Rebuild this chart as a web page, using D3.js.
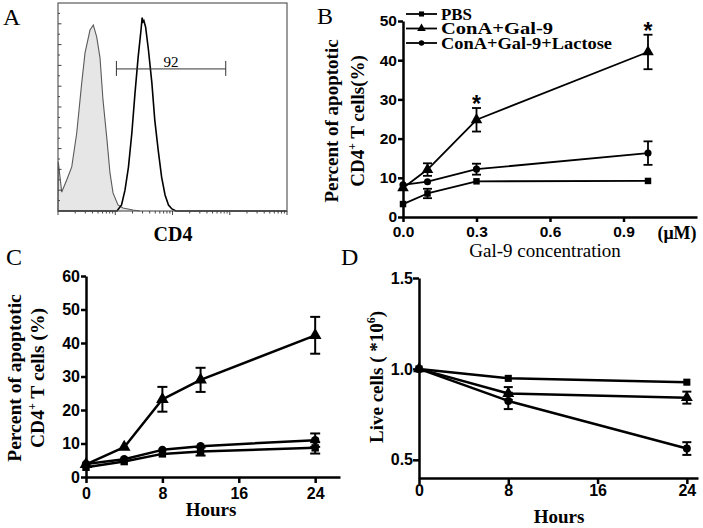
<!DOCTYPE html>
<html><head><meta charset="utf-8">
<script src="https://cdn.jsdelivr.net/npm/d3@7"></script>
<style>html,body{margin:0;padding:0;background:#fff;}svg{display:block;}</style>
</head><body>
<script>
// ---------- DATA ----------
// Panel A: flow cytometry histograms (x = log10 fluorescence decade, y = relative count %)
const isotypeHist = [[0.0,0],[0.005,23.6],[0.065,9.1],[0.152,14.9],[0.24,21.2],[0.327,37.5],[0.414,61.5],[0.472,76],[0.559,87],[0.617,89.4],[0.676,83.7],[0.734,73.6],[0.786,53.4],[0.856,34.1],[0.908,18.3],[0.961,8.7],[1.048,2.9],[1.135,1.4],[1.31,0.5],[1.43,0]];
const cd4Hist = [[0.0,0],[1.03,0],[1.11,2.9],[1.17,10],[1.23,21],[1.29,37.5],[1.345,56.7],[1.40,74],[1.45,87],[1.47,93],[1.485,91],[1.50,91.5],[1.53,88.5],[1.58,77.4],[1.64,61.5],[1.69,43.8],[1.75,29.3],[1.81,16.3],[1.87,7.7],[1.93,2.9],[1.99,1],[2.06,0],[4.0,0]];
const gateRange = [1.02, 2.93];
const gateLevel = 68.3;
const gateLabel = "92";

// Panel B: dose response
const doseX = [0, 0.1, 0.3, 1.0];
const seriesNames = ["PBS", "ConA+Gal-9", "ConA+Gal-9+Lactose"];
const doseBPBS = [3.3, 6.0, 9.1, 9.2];
const doseBPBSErr = [0, 1.2, 0, 0];
const doseBGal = [7.4, 12.1, 24.8, 42.1];
const doseBGalErr = [0, 1.6, 3.0, 4.4];
const doseBLac = [8.2, 9.0, 12.2, 16.3];
const doseBLacErr = [0, 0, 1.4, 3.0];
const doseStars = [0.3, 1.0];
const doseTicksX = [0, 0.3, 0.6, 0.9];
const doseTicksY = [0, 10, 20, 30, 40, 50];

// Panel C: time course apoptosis
const hoursC = [0, 4, 8, 12, 24];
const timeCGal = [3.8, 8.9, 23.2, 29.0, 42.3];
const timeCGalErr = [0, 0, 3.7, 3.6, 5.5];
const timeCLac = [3.9, 5.3, 8.1, 9.2, 11.0];
const timeCLacErr = [0, 0, 0, 0, 2.0];
const timeCPBS = [2.9, 4.6, 6.9, 7.6, 8.7];
const timeCPBSErr = [0, 0, 0, 1.2, 1.7];
const hourTicks = [0, 8, 16, 24];
const timeCTicksY = [0, 10, 20, 30, 40, 50, 60];

// Panel D: live cells
const hoursD = [0, 8, 24];
const liveDPBS = [1.0, 0.948, 0.927];
const liveDPBSErr = [0, 0, 0];
const liveDGal = [1.0, 0.865, 0.842];
const liveDGalErr = [0, 0.035, 0.033];
const liveDLac = [1.0, 0.824, 0.562];
const liveDLacErr = [0, 0.045, 0.035];
const liveTicksY = [0.5, 1.0, 1.5];

// ---------- DRAW ----------
const serif = "'Liberation Serif','Times New Roman',serif";
const sans = "'Liberation Sans',Arial,sans-serif";
const svg = d3.select("body").append("svg").attr("width", 703).attr("height", 528);

function txt(x, y, s, size, weight, family, anchor) {
  return svg.append("text").attr("x", x).attr("y", y).text(s)
    .attr("font-size", size).attr("font-weight", weight || "normal")
    .attr("font-family", family || serif).attr("text-anchor", anchor || "start").attr("fill", "#000");
}

// panel letters
txt(3, 25, "A", 24); txt(317, 24, "B", 24); txt(6, 265, "C", 24); txt(341, 265, "D", 24);

// ---------- Panel A ----------
const xA = d3.scaleLinear().domain([0, 4]).range([58, 287]);
const yA = d3.scaleLinear().domain([0, 100]).range([211, 3]);
const gA = svg.append("g");
gA.append("path").datum(isotypeHist)
  .attr("d", d3.area().x(d => xA(d[0])).y0(yA(0)).y1(d => yA(d[1])))
  .attr("fill", "#e6e6e6").attr("stroke", "none");
gA.append("path").datum(isotypeHist)
  .attr("d", d3.line().x(d => xA(d[0])).y(d => yA(d[1])))
  .attr("fill", "none").attr("stroke", "#5a5a5a").attr("stroke-width", 1.1);
gA.append("path").datum(cd4Hist)
  .attr("d", d3.line().x(d => xA(d[0])).y(d => yA(d[1])))
  .attr("fill", "none").attr("stroke", "#000").attr("stroke-width", 1.6);
gA.append("rect").attr("x", xA(0)).attr("y", yA(100)).attr("width", xA(4) - xA(0)).attr("height", yA(0) - yA(100))
  .attr("fill", "none").attr("stroke", "#5a5a5a").attr("stroke-width", 1.2);
// log ticks
const logTicks = [];
for (let k = 0; k < 4; k++) for (let m = 1; m <= 9; m++) logTicks.push({v: k + Math.log10(m), major: m === 1});
logTicks.push({v: 4, major: true});
gA.selectAll(".lt").data(logTicks).join("line")
  .attr("x1", d => xA(d.v)).attr("x2", d => xA(d.v))
  .attr("y1", yA(0)).attr("y2", d => yA(0) + (d.major ? 4 : 2.5))
  .attr("stroke", "#444").attr("stroke-width", 1);
const countTicks = d3.range(5, 100, 5);
gA.selectAll(".ct").data(countTicks).join("line")
  .attr("x1", xA(0)).attr("x2", d => xA(0) + (d % 10 === 0 ? 3.5 : 2))
  .attr("y1", d => yA(d)).attr("y2", d => yA(d))
  .attr("stroke", "#444").attr("stroke-width", 1);
// gate
gA.append("line").attr("x1", xA(gateRange[0])).attr("x2", xA(gateRange[1]))
  .attr("y1", yA(gateLevel)).attr("y2", yA(gateLevel)).attr("stroke", "#333").attr("stroke-width", 1);
gateRange.forEach(g => gA.append("line").attr("x1", xA(g)).attr("x2", xA(g))
  .attr("y1", yA(gateLevel) - 8).attr("y2", yA(gateLevel) + 7).attr("stroke", "#333").attr("stroke-width", 1));
txt((xA(gateRange[0]) + xA(gateRange[1])) / 2, yA(gateLevel) - 1.5, gateLabel, 15, "normal", serif, "middle");
txt((xA(0) + xA(4)) / 2 + 0.5, 241, "CD4", 20, "bold", serif, "middle");

// ---------- generic XY panel helper ----------
const shapes = [d3.symbolSquare, d3.symbolTriangle, d3.symbolCircle];
function styleAxis(g, sw, fs) {
  g.attr("font-family", sans).attr("font-size", fs).attr("font-weight", "bold");
  g.select(".domain").attr("stroke-width", sw).attr("stroke", "#000");
  g.selectAll(".tick line").attr("stroke-width", sw).attr("stroke", "#000");
  g.selectAll(".tick text").attr("fill", "#000");
}
function drawSeries(g, x, y, xs, vals, errs, shape, opts) {
  const pts = xs.map((xv, i) => ({x: xv, v: vals[i], e: errs[i]}));
  g.append("path").datum(pts).attr("d", d3.line().x(d => x(d.x)).y(d => y(d.v)))
    .attr("fill", "none").attr("stroke", "#000").attr("stroke-width", opts.lw).attr("stroke-linejoin", "round");
  const eb = pts.filter(d => d.e > 0);
  g.selectAll(null).data(eb).join("line")
    .attr("x1", d => x(d.x)).attr("x2", d => x(d.x)).attr("y1", d => y(d.v - d.e)).attr("y2", d => y(d.v + d.e))
    .attr("stroke", "#000").attr("stroke-width", opts.ew);
  [-1, 1].forEach(s => g.selectAll(null).data(eb).join("line")
    .attr("x1", d => x(d.x) - opts.cap / 2).attr("x2", d => x(d.x) + opts.cap / 2)
    .attr("y1", d => y(d.v + s * d.e)).attr("y2", d => y(d.v + s * d.e))
    .attr("stroke", "#000").attr("stroke-width", opts.ew));
  g.selectAll(null).data(pts).join("path")
    .attr("transform", d => `translate(${x(d.x)},${y(d.v)})`)
    .attr("d", d3.symbol().type(shape).size(opts.ms[shapes.indexOf(shape)]))
    .attr("fill", "#000");
}
function rotLabel(x, y, parts, size) {
  const t = svg.append("text").attr("transform", `translate(${x},${y}) rotate(-90)`)
    .attr("text-anchor", "middle").attr("font-family", serif).attr("font-weight", "bold").attr("font-size", size).attr("fill", "#000");
  parts.forEach(p => {
    const ts = t.append("tspan").text(p.t);
    if (p.sup) ts.attr("font-size", size * 0.62).attr("dy", -size * 0.42);
    if (p.after) ts.attr("dy", size * 0.42);
  });
  return t;
}

// ---------- Panel B ----------
const xB = d3.scaleLinear().domain([0, 1.2]).range([403, 697]);
const yB = d3.scaleLinear().domain([0, 50]).range([217, 21]);
const gB = svg.append("g");
const bxa = gB.append("g").attr("transform", `translate(0,${yB(0)})`)
  .call(d3.axisBottom(xB).tickValues(doseTicksX).tickFormat(d3.format(".1f")).tickSize(5).tickSizeOuter(0).tickPadding(4));
styleAxis(bxa, 2.5, 15.5);
const bya = gB.append("g").attr("transform", `translate(${xB(0)},0)`)
  .call(d3.axisLeft(yB).tickValues(doseTicksY).tickSize(5).tickSizeOuter(0).tickPadding(1));
styleAxis(bya, 2.5, 15.5);
const bOpts = {lw: 1.8, ew: 1.8, cap: 9, ms: [42, 58, 40]};
drawSeries(gB, xB, yB, doseX, doseBPBS, doseBPBSErr, d3.symbolSquare, bOpts);
drawSeries(gB, xB, yB, doseX, doseBLac, doseBLacErr, d3.symbolCircle, bOpts);
drawSeries(gB, xB, yB, doseX, doseBGal, doseBGalErr, d3.symbolTriangle, bOpts);
doseStars.forEach(s => {
  const i = doseX.indexOf(s);
  gB.append("text").attr("x", xB(s)).attr("y", yB(doseBGal[i] + doseBGalErr[i]) + 4).text("*")
    .attr("text-anchor", "middle").attr("font-family", sans).attr("font-weight", "bold").attr("font-size", 23);
});
// legend
seriesNames.forEach((n, i) => {
  const ly = 14 + i * 14.5;
  gB.append("line").attr("x1", 406).attr("x2", 437).attr("y1", ly).attr("y2", ly).attr("stroke", "#000").attr("stroke-width", 1.8);
  gB.append("path").attr("transform", `translate(421.5,${ly})`).attr("d", d3.symbol().type(shapes[i]).size([26, 32, 24][i])).attr("fill", "#000");
  txt(441, ly + 5.5, n, 17.5, "bold", serif).attr("textLength", [31, 112, 171][i]).attr("lengthAdjust", "spacingAndGlyphs");
});
rotLabel(338, 121, [{t: "Percent of apoptotic"}], 19);
rotLabel(364, 121, [{t: "CD4"}, {t: "+", sup: true}, {t: " T cells(%)", after: true}], 19);
txt(545, 257, "Gal-9 concentration", 19, "normal", serif, "middle");
txt(677, 239, "(μM)", 18, "bold", serif, "middle");

// ---------- Panel C ----------
const xC = d3.scaleLinear().domain([0, 26.6]).range([86, 340]);
const yC = d3.scaleLinear().domain([0, 60]).range([477, 276]);
const gC = svg.append("g");
const cxa = gC.append("g").attr("transform", `translate(0,${yC(0)})`)
  .call(d3.axisBottom(xC).tickValues(hourTicks).tickSize(6).tickSizeOuter(0).tickPadding(5));
styleAxis(cxa, 2.5, 16);
const cya = gC.append("g").attr("transform", `translate(${xC(0)},0)`)
  .call(d3.axisLeft(yC).tickValues(timeCTicksY).tickSize(5).tickSizeOuter(0).tickPadding(1));
styleAxis(cya, 2.5, 16);
const cOpts = {lw: 2.5, ew: 2, cap: 10, ms: [55, 70, 55]};
drawSeries(gC, xC, yC, hoursC, timeCPBS, timeCPBSErr, d3.symbolSquare, cOpts);
drawSeries(gC, xC, yC, hoursC, timeCLac, timeCLacErr, d3.symbolCircle, cOpts);
drawSeries(gC, xC, yC, hoursC, timeCGal, timeCGalErr, d3.symbolTriangle, cOpts);
rotLabel(21, 378, [{t: "Percent of apoptotic"}], 19.5);
rotLabel(44, 378, [{t: "CD4"}, {t: "+", sup: true}, {t: " T cells (%)", after: true}], 19.5);
txt(211, 516, "Hours", 19, "bold", serif, "middle");

// ---------- Panel D ----------
const xD = d3.scaleLinear().domain([0, 25]).range([419, 698]);
const yD = d3.scaleLinear().domain([0.4, 1.5]).range([478, 278]);
const gD = svg.append("g");
const dxa = gD.append("g").attr("transform", `translate(0,${yD(0.4)})`)
  .call(d3.axisBottom(xD).tickValues(hourTicks).tickSize(6).tickSizeOuter(0).tickPadding(1));
styleAxis(dxa, 2.5, 16);
const dya = gD.append("g").attr("transform", `translate(${xD(0)},0)`)
  .call(d3.axisLeft(yD).tickValues(liveTicksY).tickFormat(d3.format(".1f")).tickSize(6).tickSizeOuter(0).tickPadding(0));
styleAxis(dya, 2.5, 16);
const dOpts = {lw: 2.5, ew: 2, cap: 9, ms: [50, 62, 50]};
drawSeries(gD, xD, yD, hoursD, liveDPBS, liveDPBSErr, d3.symbolSquare, dOpts);
drawSeries(gD, xD, yD, hoursD, liveDLac, liveDLacErr, d3.symbolCircle, dOpts);
drawSeries(gD, xD, yD, hoursD, liveDGal, liveDGalErr, d3.symbolTriangle, dOpts);
rotLabel(383, 377, [{t: "Live cells ( *10"}, {t: "6", sup: true}, {t: ")", after: true}], 19);
txt(559, 523, "Hours", 19, "bold", serif, "middle");
</script>
</body></html>
